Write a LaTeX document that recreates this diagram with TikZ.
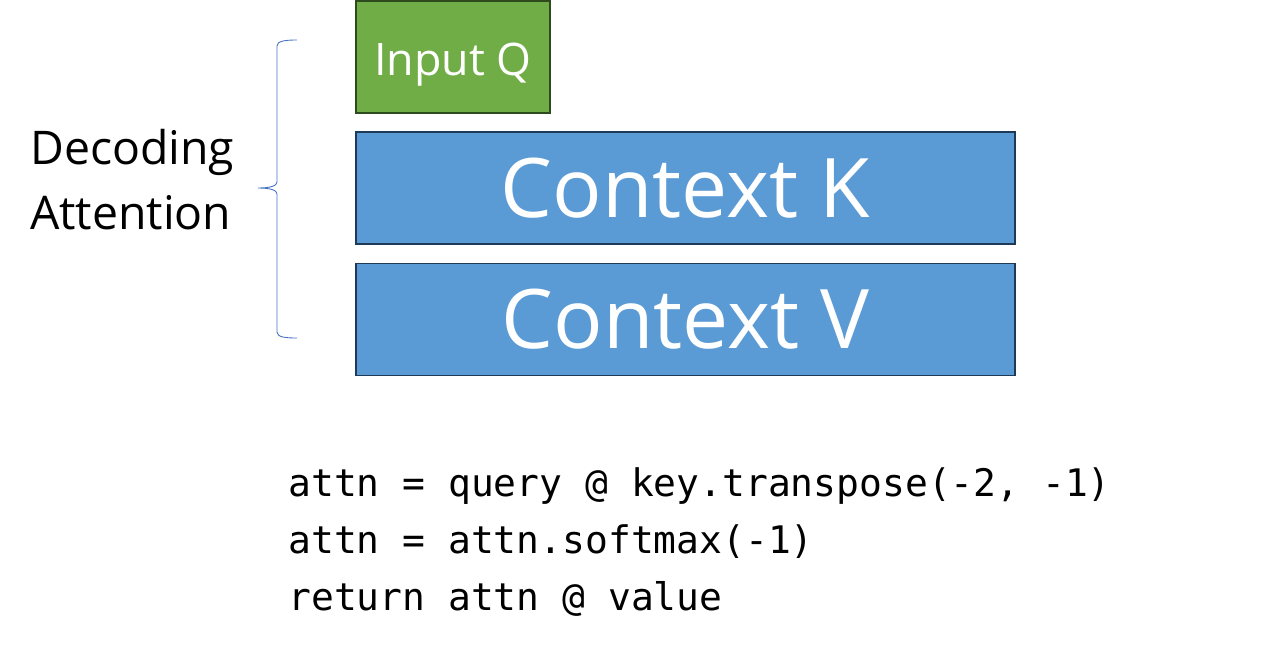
\documentclass[tikz,border=0pt]{standalone}
\usepackage{fontspec}
\setmainfont{Open Sans}
\setmonofont{DejaVu Sans Mono}
\usetikzlibrary{positioning}
\definecolor{qgreen}{HTML}{70AD47}
\definecolor{qedge}{HTML}{2E4B1E}
\definecolor{kvblue}{HTML}{5B9BD5}
\definecolor{kvedge}{HTML}{1F3A56}
\definecolor{bracecol}{HTML}{4472C4}
\tikzset{
	block/.style={draw, line width=1.1pt, text=white, inner sep=0pt, minimum height=2.24cm},
	qblock/.style={block, fill=qgreen, draw=qedge, minimum width=3.88cm, text height=23pt, text depth=1.5pt, font=\fontsize{25.5}{30}\selectfont},
	kvblock/.style={block, fill=kvblue, draw=kvedge, minimum width=13.18cm, font=\fontsize{46.8}{52}\selectfont},
}
\begin{document}
\begin{tikzpicture}[x=0.02cm, y=-0.02cm]
				\useasboundingbox (0,0) rectangle (1273,647);
				
				% boxes
				\node[qblock] (inq) at (453,57) {Input Q};
				\node[kvblock] (ctxk) at (685.5,188) {Context K};
				\node[kvblock] (ctxv) at (685.5,319.5) {Context V};
				
				% brace
				\draw[bracecol, line width=0.5pt] (297,40) .. controls (285,40) and (277,41) .. (277,46)
					-- (277,182) .. controls (277,186) and (270,188) .. (258,188)
					.. controls (270,188) and (277,190) .. (277,194)
					-- (277,332) .. controls (277,337) and (285,338) .. (297,338);
				
				\node[anchor=west, align=left, font=\fontsize{26.4}{37}\selectfont] (label) at (24,180) {Decoding\\Attention};
				
				% code
				\node[anchor=north west, align=left, inner sep=0pt, font=\ttfamily\fontsize{21.6}{32.6}\selectfont] (code) at (288,467)
					{attn = query @ key.transpose(-2, -1)\\attn = attn.softmax(-1)\\return attn @ value};
			\end{tikzpicture}
\end{document}
